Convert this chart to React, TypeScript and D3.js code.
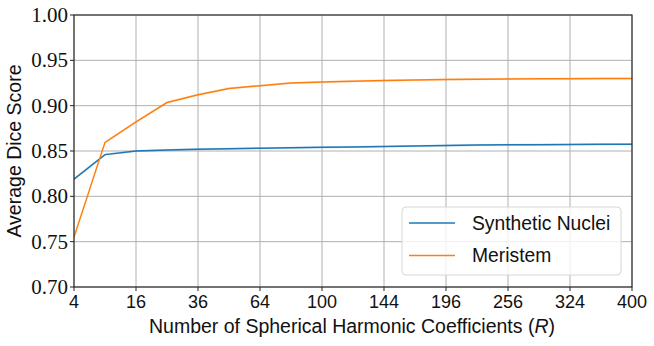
import React from "react";
import * as d3 from "d3";

const xTicks = [4, 16, 36, 64, 100, 144, 196, 256, 324, 400];
const yTicks = [0.7, 0.75, 0.8, 0.85, 0.9, 0.95, 1.0];
const coeffs = [4, 9, 16, 25, 36, 49, 64, 81, 100, 121, 144, 169, 196, 225, 256, 289, 324, 361, 400];
const synthetic = [0.819, 0.846, 0.850, 0.851, 0.852, 0.8525, 0.853, 0.8535, 0.854, 0.8545, 0.855, 0.8555, 0.856, 0.8565, 0.8568, 0.857, 0.8572, 0.8574, 0.8575];
const meristem = [0.755, 0.8595, 0.882, 0.9035, 0.912, 0.919, 0.922, 0.925, 0.926, 0.927, 0.9277, 0.9283, 0.9288, 0.9292, 0.9295, 0.9297, 0.9298, 0.9299, 0.930];
const seriesNames = ["Synthetic Nuclei", "Meristem"];
const colors = ["#1f77b4", "#ff7f0e"];

export default function App() {
  const W = 654, H = 346;
  const left = 74, right = 632, top = 15, bottom = 287;
  const x = d3.scaleLinear().domain([2, 20]).range([left, right]);
  const y = d3.scaleLinear().domain([0.7, 1.0]).range([bottom, top]);
  const line = d3.line<[number, number]>().x(d => x(Math.sqrt(d[0]))).y(d => y(d[1]));
  const area = d3.area<[number, number]>().x(d => x(Math.sqrt(d[0]))).y0(d => y(d[1] - 0.0012)).y1(d => y(d[1] + 0.0012));
  const data = [synthetic, meristem].map(s => coeffs.map((c, i) => [c, s[i]] as [number, number]));
  const serif = "'Liberation Serif', 'DejaVu Serif', serif";
  const sans = "'Liberation Sans', 'DejaVu Sans', sans-serif";
  return (
    <svg width={W} height={H} style={{ position: "absolute", left: 0, top: 0, background: "#fff" }}>
      <rect width={W} height={H} fill="#fff" />
      {xTicks.map(t => (
        <line key={"gx" + t} x1={x(Math.sqrt(t))} x2={x(Math.sqrt(t))} y1={top} y2={bottom} stroke="#b0b0b0" strokeWidth={1} />
      ))}
      {yTicks.map(t => (
        <line key={"gy" + t} x1={left} x2={right} y1={y(t)} y2={y(t)} stroke="#b0b0b0" strokeWidth={1} />
      ))}
      {data.map((d, i) => (
        <g key={"s" + i}>
          <path d={area(d) || ""} fill={colors[i]} opacity={0.2} />
          <path d={line(d) || ""} fill="none" stroke={colors[i]} strokeWidth={1.5} />
        </g>
      ))}
      <rect x={left} y={top} width={right - left} height={bottom - top} fill="none" stroke="#222" strokeWidth={1.1} />
      {xTicks.map(t => (
        <g key={"tx" + t}>
          <line x1={x(Math.sqrt(t))} x2={x(Math.sqrt(t))} y1={bottom} y2={bottom + 4} stroke="#222" />
          <text x={x(Math.sqrt(t))} y={308} textAnchor="middle" fontFamily={sans} fontSize={18} fill="#111">{t}</text>
        </g>
      ))}
      {yTicks.map(t => (
        <g key={"ty" + t}>
          <line x1={left - 4} x2={left} y1={y(t)} y2={y(t)} stroke="#222" />
          <text x={left - 6} y={y(t) + 7} textAnchor="end" fontFamily={serif} fontSize={21} fill="#111">{t.toFixed(2)}</text>
        </g>
      ))}
      <text x={352} y={333} textAnchor="middle" fontFamily={sans} fontSize={19.5} fill="#111">
        Number of Spherical Harmonic Coefficients (<tspan fontStyle="italic">R</tspan>)
      </text>
      <text transform={`translate(21,${(top + bottom) / 2}) rotate(-90)`} textAnchor="middle" fontFamily={sans} fontSize={19.5} fill="#111">
        Average Dice Score
      </text>
      <g>
        <rect x={402} y={207} width={219} height={68} rx={4} fill="#fff" fillOpacity={0.8} stroke="#d6d6d6" />
        {seriesNames.map((n, i) => (
          <g key={n}>
            <line x1={409} x2={455} y1={223 + i * 32.5} y2={223 + i * 32.5} stroke={colors[i]} strokeWidth={1.5} />
            <text x={472} y={229.5 + i * 32.5} fontFamily={sans} fontSize={19.3} fill="#111">{n}</text>
          </g>
        ))}
      </g>
    </svg>
  );
}
